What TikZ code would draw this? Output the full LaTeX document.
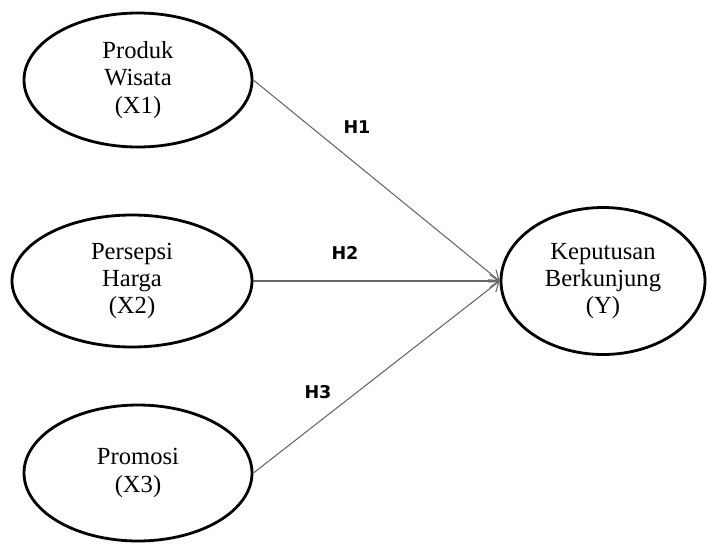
\documentclass[tikz,border=0pt]{standalone}
\usepackage{fontspec}
\setmainfont{Liberation Serif}
\newfontfamily\hfont{DejaVu Sans}
\usepackage{tikz}
\usetikzlibrary{arrows.meta,shapes.geometric}

\begin{document}
\begin{tikzpicture}
    \useasboundingbox (0,0) rectangle (14.14,-10.9);
    %%%%% THE VARIABLES
    \begin{scope}[every node/.style={shape=ellipse,draw,line width=1.6pt,align=center,
        font=\fontsize{14}{15.5}\selectfont}]
      \node[minimum width=4.56cm, minimum height=2.68cm] (X1) at (2.76,-1.6) {Produk\\Wisata\\(X1)};
      \node[minimum width=4.8cm, minimum height=2.64cm] (X2) at (2.64,-5.62) {Persepsi\\Harga\\(X2)};
      \node[minimum width=4.56cm, minimum height=2.72cm] (X3) at (2.76,-9.46) {Promosi\\(X3)};
      \node[minimum width=4.08cm, minimum height=2.94cm] (Y) at (12.06,-5.62) {Keputusan\\Berkunjung\\(Y)};
    \end{scope}
    %%%%% THE HYPOTHESES
    \begin{scope}[every node/.style={font=\hfont\bfseries\fontsize{10}{12}\selectfont}]
      \node (H1) at (7.14,-2.54) {H1};
      \node (H2) at (6.9,-5.06) {H2};
      \node (H3) at (6.36,-7.84) {H3};
    \end{scope}
    %%%% LINKS FROM THE VARIABLES TO Y
    \begin{scope}[-{Straight Barb[length=1.8mm,width=2.6mm]},draw=black!60,line width=0.6pt]
      \draw (X1.east) -- (Y.west);
      \draw (X2.east) -- (Y.west);
      \draw (X3.east) -- (Y.west);
    \end{scope}
\end{tikzpicture}
\end{document}
